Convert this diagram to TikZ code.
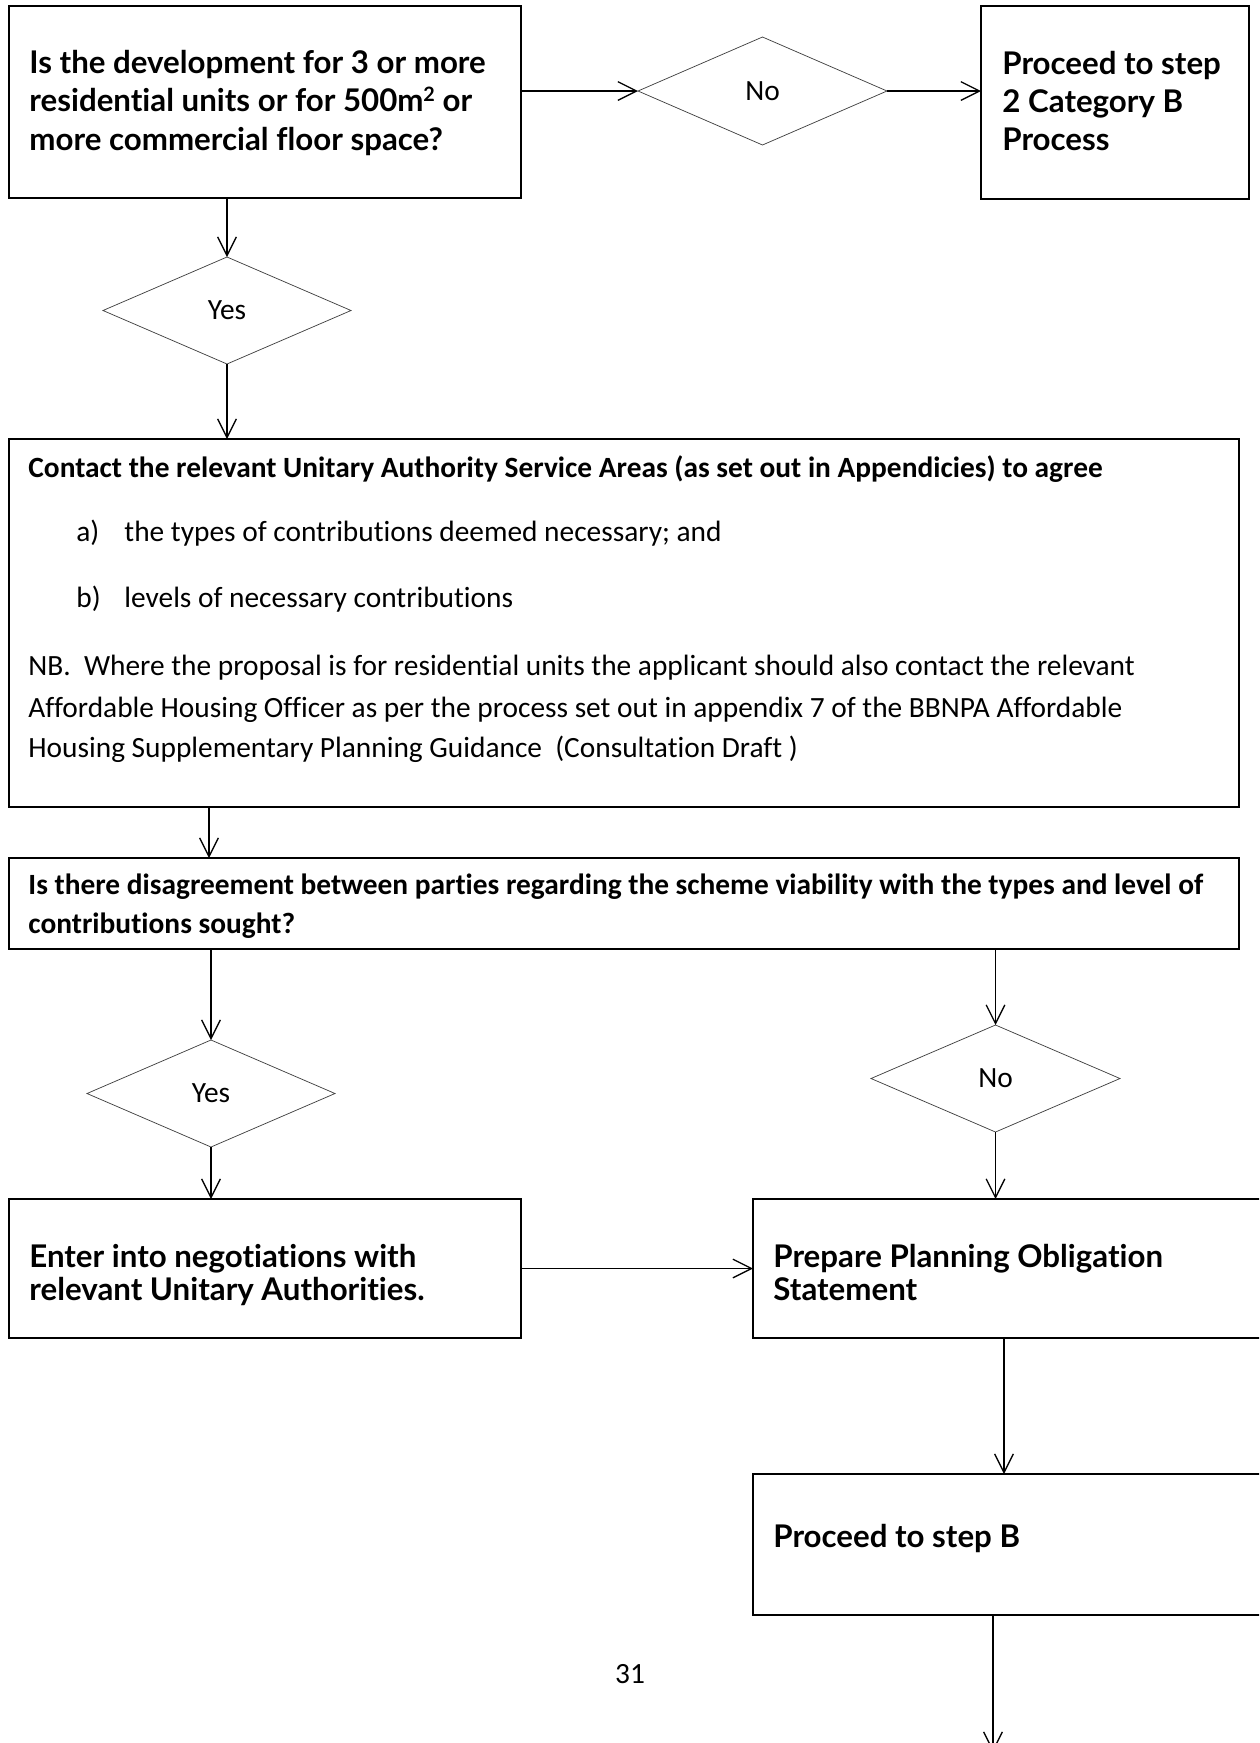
\documentclass[tikz,border=0pt]{standalone}
\usepackage{fontspec}
\setmainfont{Carlito}[Ligatures=NoCommon]
\newfontfamily\gillfont{Lato}[Ligatures=NoCommon]
\usetikzlibrary{shapes.geometric,arrows.meta,calc}
\newcommand{\supsmall}[1]{\raisebox{0.62ex}{\fontsize{9.5}{10}\selectfont #1}}
\begin{document}
\begin{tikzpicture}[x=0.48pt,y=-0.48pt,
  box/.style={draw=black, line width=0.75pt, inner sep=0pt, outer sep=0pt, rectangle},
  dia/.style={diamond, draw=black!75, line width=0.35pt, inner sep=0pt, outer sep=0pt,
    font=\fontsize{14.1}{16}\selectfont},
  conn/.style={draw=black, line width=0.6pt, -{Straight Barb[length=9pt,width=9pt,line width=0.6pt]}},
  gtxt/.style={anchor=base west, inner sep=0pt, font=\gillfont\bfseries\fontsize{15}{17}\selectfont},
  ctxt/.style={anchor=base west, inner sep=0pt, font=\fontsize{14.1}{16}\selectfont},
  cbtxt/.style={anchor=base west, inner sep=0pt, font=\bfseries\fontsize{14.1}{16}\selectfont}
]
\useasboundingbox (0,0) rectangle (1259,1743);
\clip (0,0) rectangle (1259,1743);

% boxes
\node[box, minimum width=245.76pt, minimum height=92.16pt] (B1) at (265,102) {};
\node[box, minimum width=128.64pt, minimum height=92.64pt] (B2) at (1115,102.5) {};
\node[box, minimum width=590.4pt, minimum height=176.64pt] (B3) at (624,623) {};
\node[box, minimum width=590.4pt, minimum height=43.68pt] (B4) at (624,903.5) {};
\node[box, minimum width=245.76pt, minimum height=66.72pt] (B5) at (265,1268.5) {};
\node[box, minimum width=264pt, minimum height=66.72pt] (B6) at (1028,1268.5) {};
\node[box, minimum width=264pt, minimum height=67.68pt] (B7) at (1028,1544.5) {};

% diamonds
\node[dia, minimum width=119.52pt, minimum height=51.84pt] (N1) at (762.5,91) {No};
\node[dia, minimum width=119.04pt, minimum height=51.36pt] (Y1) at (227,310.5) {Yes};
\node[dia, minimum width=119.04pt, minimum height=51.36pt] (Y2) at (211,1093.5) {Yes};
\node[dia, minimum width=119.52pt, minimum height=51.36pt] (N2) at (995.5,1078.5) {No};

% box texts
\node[gtxt] (t1a) at (29,73) {Is the development for 3 or more};
\node[gtxt] (t1b) at (29,111) {residential units or for 500m\supsmall{2} or};
\node[gtxt] (t1c) at (29,150) {more commercial floor space?};

\node[gtxt] (t2a) at (1002,74) {Proceed to step};
\node[gtxt] (t2b) at (1002,112) {2 Category B};
\node[gtxt] (t2c) at (1002,150) {Process};

\node[cbtxt] (t3a) at (28,477) {Contact the relevant Unitary Authority Service Areas (as set out in Appendicies) to agree};
\node[ctxt] (t3b1) at (76,541) {a)};
\node[ctxt] (t3b2) at (124,541) {the types of contributions deemed necessary; and};
\node[ctxt] (t3c1) at (76,607) {b)};
\node[ctxt] (t3c2) at (124,607) {levels of necessary contributions};
\node[ctxt] (t3d) at (28,675) {NB.\ \ Where the proposal is for residential units the applicant should also contact the relevant};
\node[ctxt] (t3e) at (28,717) {Affordable Housing Officer as per the process set out in appendix 7 of the BBNPA Affordable};
\node[ctxt] (t3f) at (28,757) {Housing Supplementary Planning Guidance\ \ (Consultation Draft )};

\node[cbtxt] (t4a) at (28,894) {Is there disagreement between parties regarding the scheme viability with the types and level of};
\begin{scope}
  \clip (0,858) rectangle (1259,939);
  \node[cbtxt] (t4b) at (28,933) {contributions sought?};
\end{scope}

\node[gtxt] (t5a) at (29,1267) {Enter into negotiations with};
\node[gtxt] (t5b) at (29,1300) {relevant Unitary Authorities.};

\node[gtxt] (t6a) at (773,1267) {Prepare Planning Obligation};
\node[gtxt] (t6b) at (773,1300) {Statement};

\node[gtxt] (t7a) at (773,1547) {Proceed to step B};

\node[anchor=base, inner sep=0pt, font=\fontsize{14.1}{16}\selectfont] (pg) at (630,1683) {31};

% connectors
\draw[conn] (B1.east |- N1.west) -- (N1.west);
\draw[conn] (N1.east) -- (N1.east -| B2.west);
\draw[conn] (Y1.north |- B1.south) -- (Y1.north);
\draw[conn] (Y1.south) -- (Y1.south |- B3.north);
\coordinate (c34) at (209,0);
\draw[conn] (c34 |- B3.south) -- (c34 |- B4.north);
\draw[conn] (Y2.north |- B4.south) -- (Y2.north);
\draw[conn] (Y2.south) -- (Y2.south |- B5.north);
\draw[conn] (N2.north |- B4.south) -- (N2.north);
\draw[conn] (N2.south) -- (N2.south |- B6.north);
\draw[conn] (B5.east) -- (B5.east -| B6.west);
\coordinate (c67) at (1004,0);
\draw[conn] (c67 |- B6.south) -- (c67 |- B7.north);
\coordinate (out) at (993,1752);
\draw[conn] (out |- B7.south) -- (out);
\end{tikzpicture}
\end{document}
